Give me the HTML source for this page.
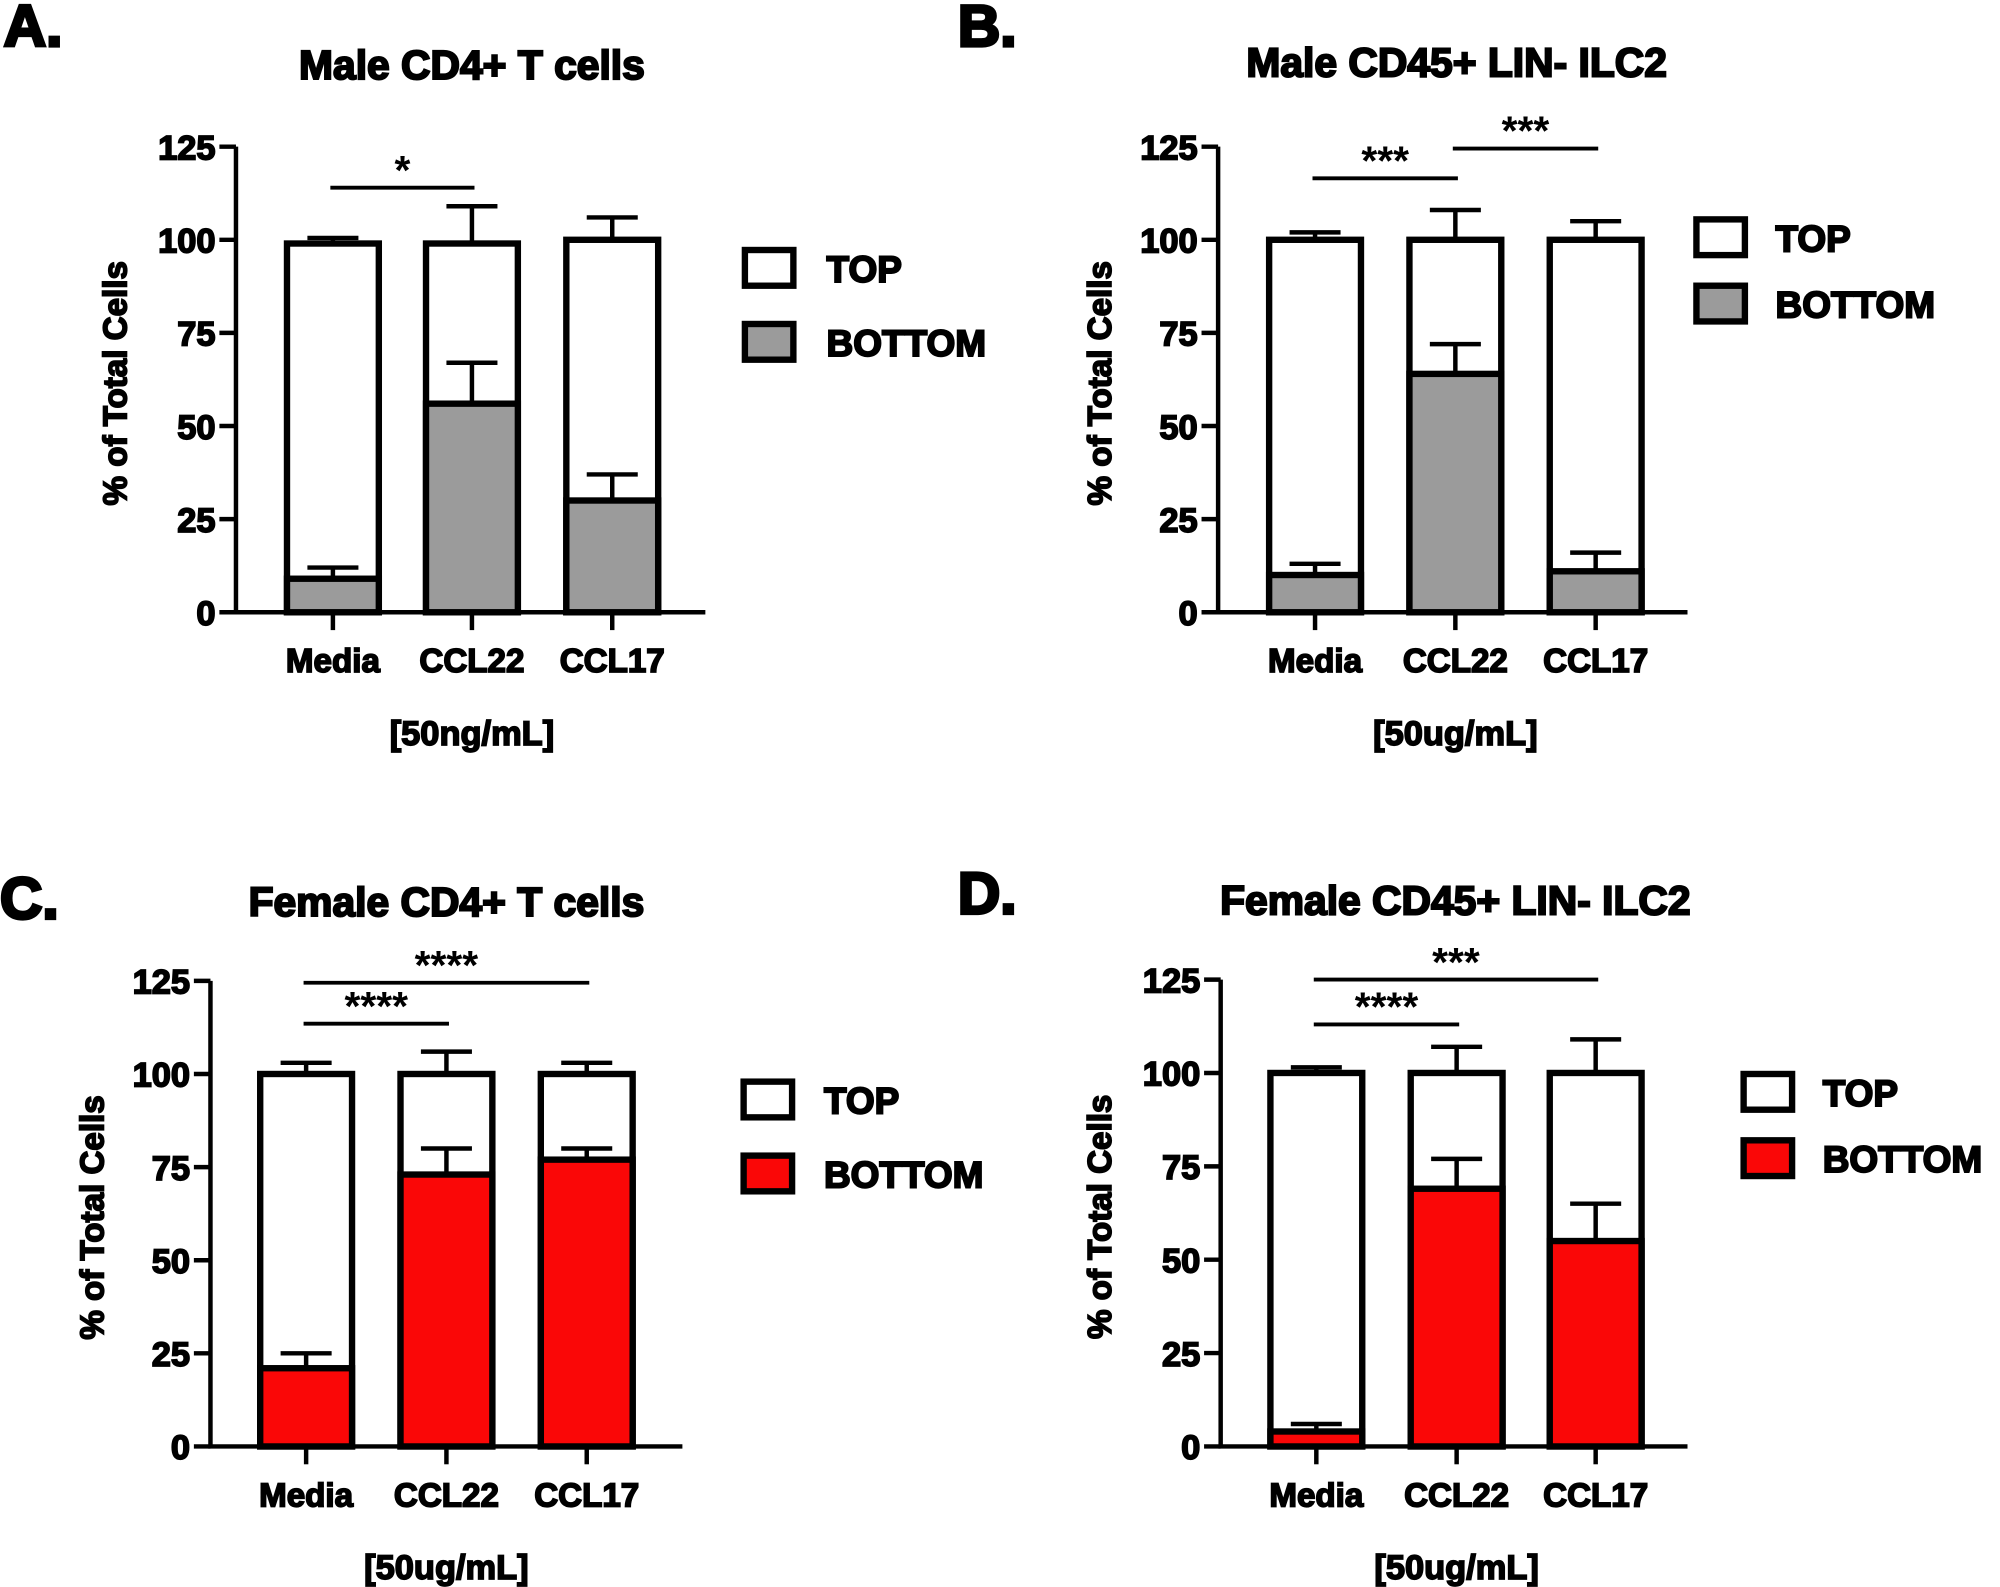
<!DOCTYPE html>
<html><head><meta charset="utf-8"><style>
html,body{margin:0;padding:0;background:#fff}
svg{display:block}
text{font-family:"Liberation Sans",Arial,sans-serif;font-weight:bold;fill:#000}
</style></head><body>
<svg id="fig" width="2000" height="1587" viewBox="0 0 1568 1244.2" preserveAspectRatio="none" xmlns="http://www.w3.org/2000/svg"></svg>
<script>
const categories = ["Media","CCL22","CCL17"];
const bottomA = [9,56,30], bottomErrA = [12,67,37], totalA = [99,99,100], totalErrA = [100.5,109,106];
const bottomB = [10,64,11], bottomErrB = [13,72,16], totalB = [100,100,100], totalErrB = [102,108,105];
const bottomC = [21,73,77], bottomErrC = [25,80,80], totalC = [100,100,100], totalErrC = [103,106,103];
const bottomD = [4,69,55], bottomErrD = [6,77,65], totalD = [100,100,100], totalErrD = [101.5,107,109];
const yTicks = [0,25,50,75,100,125];
const sigA = [[0,1,114,"*"]];
const sigB = [[0,1,116.5,"***"],[1,2,124.5,"***"]];
const sigC = [[0,1,113.5,"****"],[0,2,124.5,"****"]];
const sigD = [[0,1,113,"****"],[0,2,125,"***"]];

const NS="http://www.w3.org/2000/svg";
const svg=document.getElementById('fig');
function el(tag,attrs,parent,txt){const e=document.createElementNS(NS,tag);for(const k in attrs)e.setAttribute(k,attrs[k]);if(txt!==undefined)e.textContent=txt;(parent||svg).appendChild(e);return e;}

const panels=[
 {id:'a',letter:'A.',lx:3,ly:36,title:'Male CD4+ T cells',tx:370,ty:62,ax:185,y0:480,y1:115,xs:[261,370,480],xend:553,fill:'#9b9b9b',
  bot:bottomA,bErr:bottomErrA,tot:totalA,tErr:totalErrA,sig:sigA,unit:'[50ng/mL]',ytx:90,leg:[584,196,648]},
 {id:'b',letter:'B.',lx:751,ly:36,title:'Male CD45+ LIN- ILC2',tx:1142,ty:60,ax:955,y0:480,y1:115,xs:[1031,1141,1251],xend:1323,fill:'#9b9b9b',
  bot:bottomB,bErr:bottomErrB,tot:totalB,tErr:totalErrB,sig:sigB,unit:'[50ug/mL]',ytx:862,leg:[1330,172,1392]},
 {id:'c',letter:'C.',lx:0,ly:720,title:'Female CD4+ T cells',tx:350,ty:718,ax:165,y0:1134,y1:769,xs:[240,350,460],xend:535,fill:'#fa0707',
  bot:bottomC,bErr:bottomErrC,tot:totalC,tErr:totalErrC,sig:sigC,unit:'[50ug/mL]',ytx:72,leg:[583,848,646]},
 {id:'d',letter:'D.',lx:751,ly:716,title:'Female CD45+ LIN- ILC2',tx:1141,ty:717,ax:957,y0:1134,y1:768,xs:[1032,1142,1251],xend:1323,fill:'#fa0707',
  bot:bottomD,bErr:bottomErrD,tot:totalD,tErr:totalErrD,sig:sigD,unit:'[50ug/mL]',ytx:862,leg:[1367,842,1429]}
];

panels.forEach(p=>{
 const g=el('g',{});
 
 
 const y=v=>p.y0-(v/125)*(p.y0-p.y1);
 const lt=el('text',{x:p.lx,y:p.ly,'font-size':46,stroke:'#000','stroke-width':2.5},g,p.letter);
 
 
 const tt=el('text',{x:p.tx,y:p.ty,'font-size':32,'text-anchor':'middle',stroke:'#000','stroke-width':1.6},g,p.title);
 
 
 categories.forEach((c,i)=>{
  const cx=p.xs[i],w=72,cap=20;
  const e1=el('path',{d:`M${cx} ${y(p.tot[i])}V${y(p.tErr[i])}M${cx-cap} ${y(p.tErr[i])}H${cx+cap}`,stroke:'#000','stroke-width':3.5,fill:'none'},g);
  
  
  const r1=el('rect',{x:cx-w/2,y:y(p.tot[i]),width:w,height:y(0)-y(p.tot[i]),fill:'#fff',stroke:'#000','stroke-width':5},g);
  
  
  const e2=el('path',{d:`M${cx} ${y(p.bot[i])}V${y(p.bErr[i])}M${cx-cap} ${y(p.bErr[i])}H${cx+cap}`,stroke:'#000','stroke-width':3.5,fill:'none'},g);
  
  
  const r2=el('rect',{x:cx-w/2,y:y(p.bot[i]),width:w,height:y(0)-y(p.bot[i]),fill:p.fill,stroke:'#000','stroke-width':5},g);
  
  
  el('line',{x1:cx,x2:cx,y1:p.y0,y2:p.y0+14,stroke:'#000','stroke-width':3.5},g);
  const xl=el('text',{x:cx,y:p.y0+47,'font-size':26,'text-anchor':'middle',stroke:'#000','stroke-width':1.3},g,c);
  
  
 });
 const ya=el('path',{d:`M${p.ax} ${p.y1}V${p.y0}H${p.xend}`,stroke:'#000','stroke-width':3.5,fill:'none'},g);
 
 
 yTicks.forEach(t=>{
  el('line',{x1:p.ax-13,x2:p.ax,y1:y(t),y2:y(t),stroke:'#000','stroke-width':3.5},g);
  const tl=el('text',{x:p.ax-16,y:y(t)+10,'font-size':27,'text-anchor':'end',stroke:'#000','stroke-width':1.3},g,String(t));
  
  
 });
 const yt=el('text',{x:0,y:0,'font-size':26,'text-anchor':'middle',stroke:'#000','stroke-width':1.3,transform:`translate(${p.ytx+9},${(p.y0+p.y1)/2+3}) rotate(-90)`},g,'% of Total Cells');
 
 
 const xt=el('text',{x:p.xs[1],y:p.y0+104,'font-size':27,'text-anchor':'middle',stroke:'#000','stroke-width':1.3},g,p.unit);
 
 
 p.sig.forEach(s=>{
  const yy=y(s[2]);
  const sl=el('line',{x1:p.xs[s[0]]-2,x2:p.xs[s[1]]+2,y1:yy,y2:yy,stroke:'#000','stroke-width':3},g);
  
  
  const st=el('text',{x:(p.xs[s[0]]+p.xs[s[1]])/2,y:yy-3,'font-size':32,'text-anchor':'middle','font-weight':'normal'},g,s[3]);
  
  
 });
 const [lx,ly,tx]=p.leg;
 [['TOP','#fff'],['BOTTOM',p.fill]].forEach((L,k)=>{
  const by=ly+k*(p.id==='a'||p.id==='c'?58:52);
  const lr=el('rect',{x:lx,y:by,width:38,height:28,fill:L[1],stroke:'#000','stroke-width':5},g);
  
  
  const ltx=el('text',{x:tx,y:by+25,'font-size':29,stroke:'#000','stroke-width':1.5},g,L[0]);
  
  
 });
});
</script>
</body></html>
